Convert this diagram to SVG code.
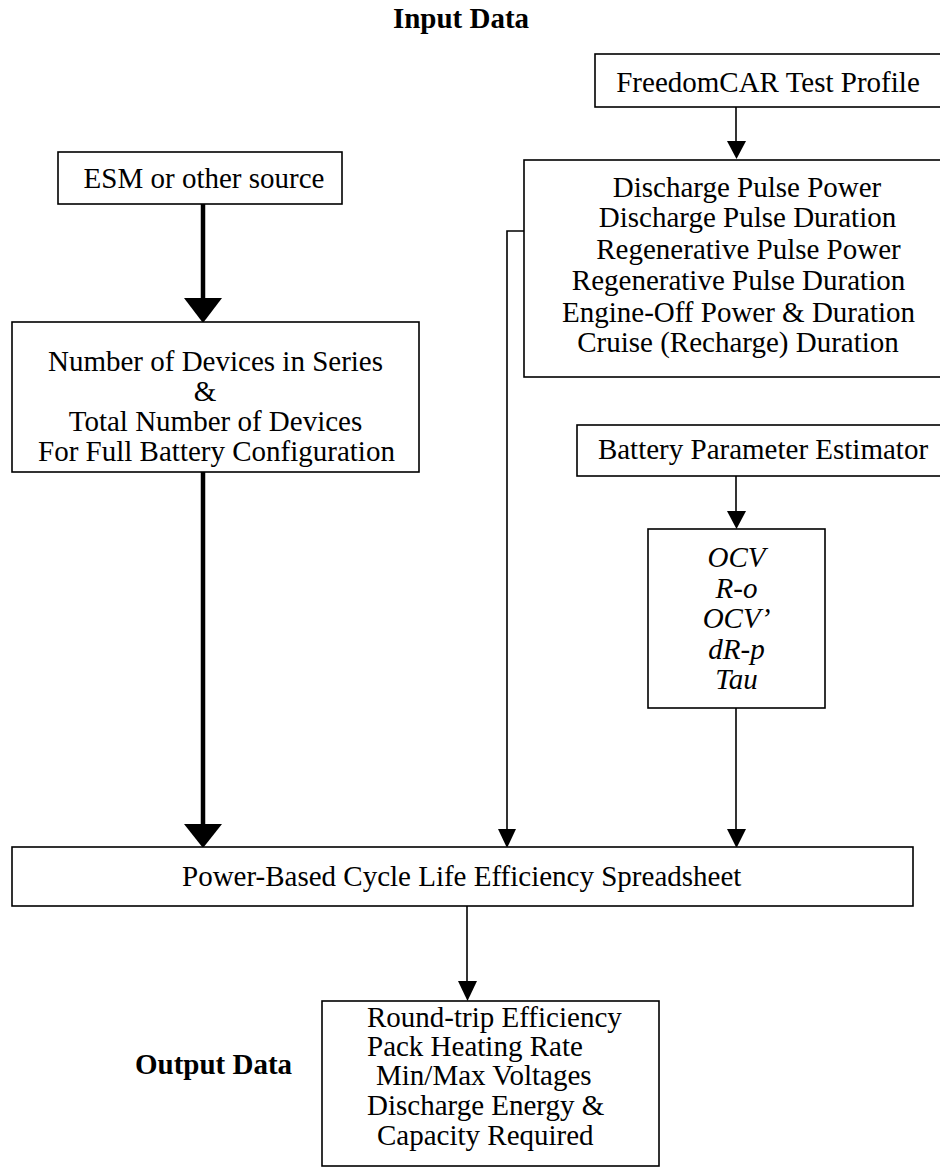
<svg xmlns="http://www.w3.org/2000/svg" width="940" height="1168" viewBox="0 0 940 1168">
  <style>
    .box { fill: #ffffff; stroke: #000000; stroke-width: 1.6; }
    .t { font-family: "Liberation Serif", "Times New Roman", serif; font-size: 29px; fill: #000000; }
    .c { text-anchor: middle; }
    .it { font-style: italic; }
    .b { font-weight: bold; }
    .thin { stroke: #000000; stroke-width: 1.6; fill: none; }
    .heavy { stroke: #000000; stroke-width: 4.5; fill: none; }
    .head { fill: #000000; stroke: none; }
  </style>

  <rect width="940" height="1168" fill="#ffffff"/>

  <!-- section titles -->
  <text class="t b c" x="461" y="28">Input Data</text>
  <text class="t b" x="135" y="1074">Output Data</text>

  <!-- connectors -->
  <g id="connectors">
    <!-- source to device count (heavy) -->
    <line class="heavy" x1="203" y1="204" x2="203" y2="300"/>
    <polygon class="head" points="184,298 222,298 203,323"/>
    <!-- device count to spreadsheet (heavy) -->
    <line class="heavy" x1="203" y1="472" x2="203" y2="826"/>
    <polygon class="head" points="184,824 222,824 203,848"/>
    <!-- test profile to pulse parameters -->
    <line class="thin" x1="736" y1="107" x2="736" y2="141"/>
    <polygon class="head" points="727,141 746,141 736.5,159"/>
    <!-- pulse parameters to spreadsheet -->
    <polyline class="thin" points="524,231 507,231 507,829"/>
    <polygon class="head" points="498,829 516,829 507,848"/>
    <!-- estimator to model parameters -->
    <line class="thin" x1="736" y1="476" x2="736" y2="511"/>
    <polygon class="head" points="727,511 746,511 736.5,529"/>
    <!-- model parameters to spreadsheet -->
    <line class="thin" x1="736" y1="708" x2="736" y2="829"/>
    <polygon class="head" points="727,829 746,829 736.5,848"/>
    <!-- spreadsheet to outputs -->
    <line class="thin" x1="467" y1="906" x2="467" y2="982"/>
    <polygon class="head" points="458,981 477,981 467.5,1001"/>
  </g>

  <g id="esm-source">
    <rect class="box" x="58" y="152" width="284" height="52"/>
    <text class="t c" x="204" y="188">ESM or other source</text>
  </g>

  <g id="device-count">
    <rect class="box" x="12" y="322" width="407" height="150"/>
    <text class="t c" x="215.5" y="371">Number of Devices in Series</text>
    <text class="t c" x="205" y="401">&amp;</text>
    <text class="t c" x="215.5" y="431">Total Number of Devices</text>
    <text class="t c" x="216.5" y="461">For Full Battery Configuration</text>
  </g>

  <g id="test-profile">
    <rect class="box" x="595" y="54" width="346" height="53"/>
    <text class="t c" x="768" y="92">FreedomCAR Test Profile</text>
  </g>

  <g id="pulse-parameters">
    <rect class="box" x="524" y="160" width="440" height="217"/>
    <text class="t c" x="747" y="197">Discharge Pulse Power</text>
    <text class="t c" x="747.5" y="227">Discharge Pulse Duration</text>
    <text class="t c" x="748.5" y="259">Regenerative Pulse Power</text>
    <text class="t c" x="738.5" y="290">Regenerative Pulse Duration</text>
    <text class="t c" x="738.5" y="322">Engine-Off Power &amp; Duration</text>
    <text class="t c" x="738" y="352">Cruise (Recharge) Duration</text>
  </g>

  <g id="parameter-estimator">
    <rect class="box" x="577" y="425" width="382" height="51"/>
    <text class="t c" x="763" y="459">Battery Parameter Estimator</text>
  </g>

  <g id="model-parameters">
    <rect class="box" x="648" y="529" width="177" height="179"/>
    <text class="t c it" x="736.5" y="567">OCV</text>
    <text class="t c it" x="736.5" y="598">R-o</text>
    <text class="t c it" x="736.5" y="628">OCV’</text>
    <text class="t c it" x="736.5" y="659">dR-p</text>
    <text class="t c it" x="736.5" y="689">Tau</text>
  </g>

  <g id="spreadsheet">
    <rect class="box" x="12" y="847" width="901" height="59"/>
    <text class="t" x="182" y="886">Power-Based Cycle Life Efficiency Spreadsheet</text>
  </g>

  <g id="outputs">
    <rect class="box" x="322" y="1001" width="337" height="165"/>
    <text class="t" x="367" y="1027">Round-trip Efficiency</text>
    <text class="t" x="367" y="1056">Pack Heating Rate</text>
    <text class="t" x="376" y="1085">Min/Max Voltages</text>
    <text class="t" x="367" y="1115">Discharge Energy &amp;</text>
    <text class="t" x="377" y="1145">Capacity Required</text>
  </g>
</svg>
